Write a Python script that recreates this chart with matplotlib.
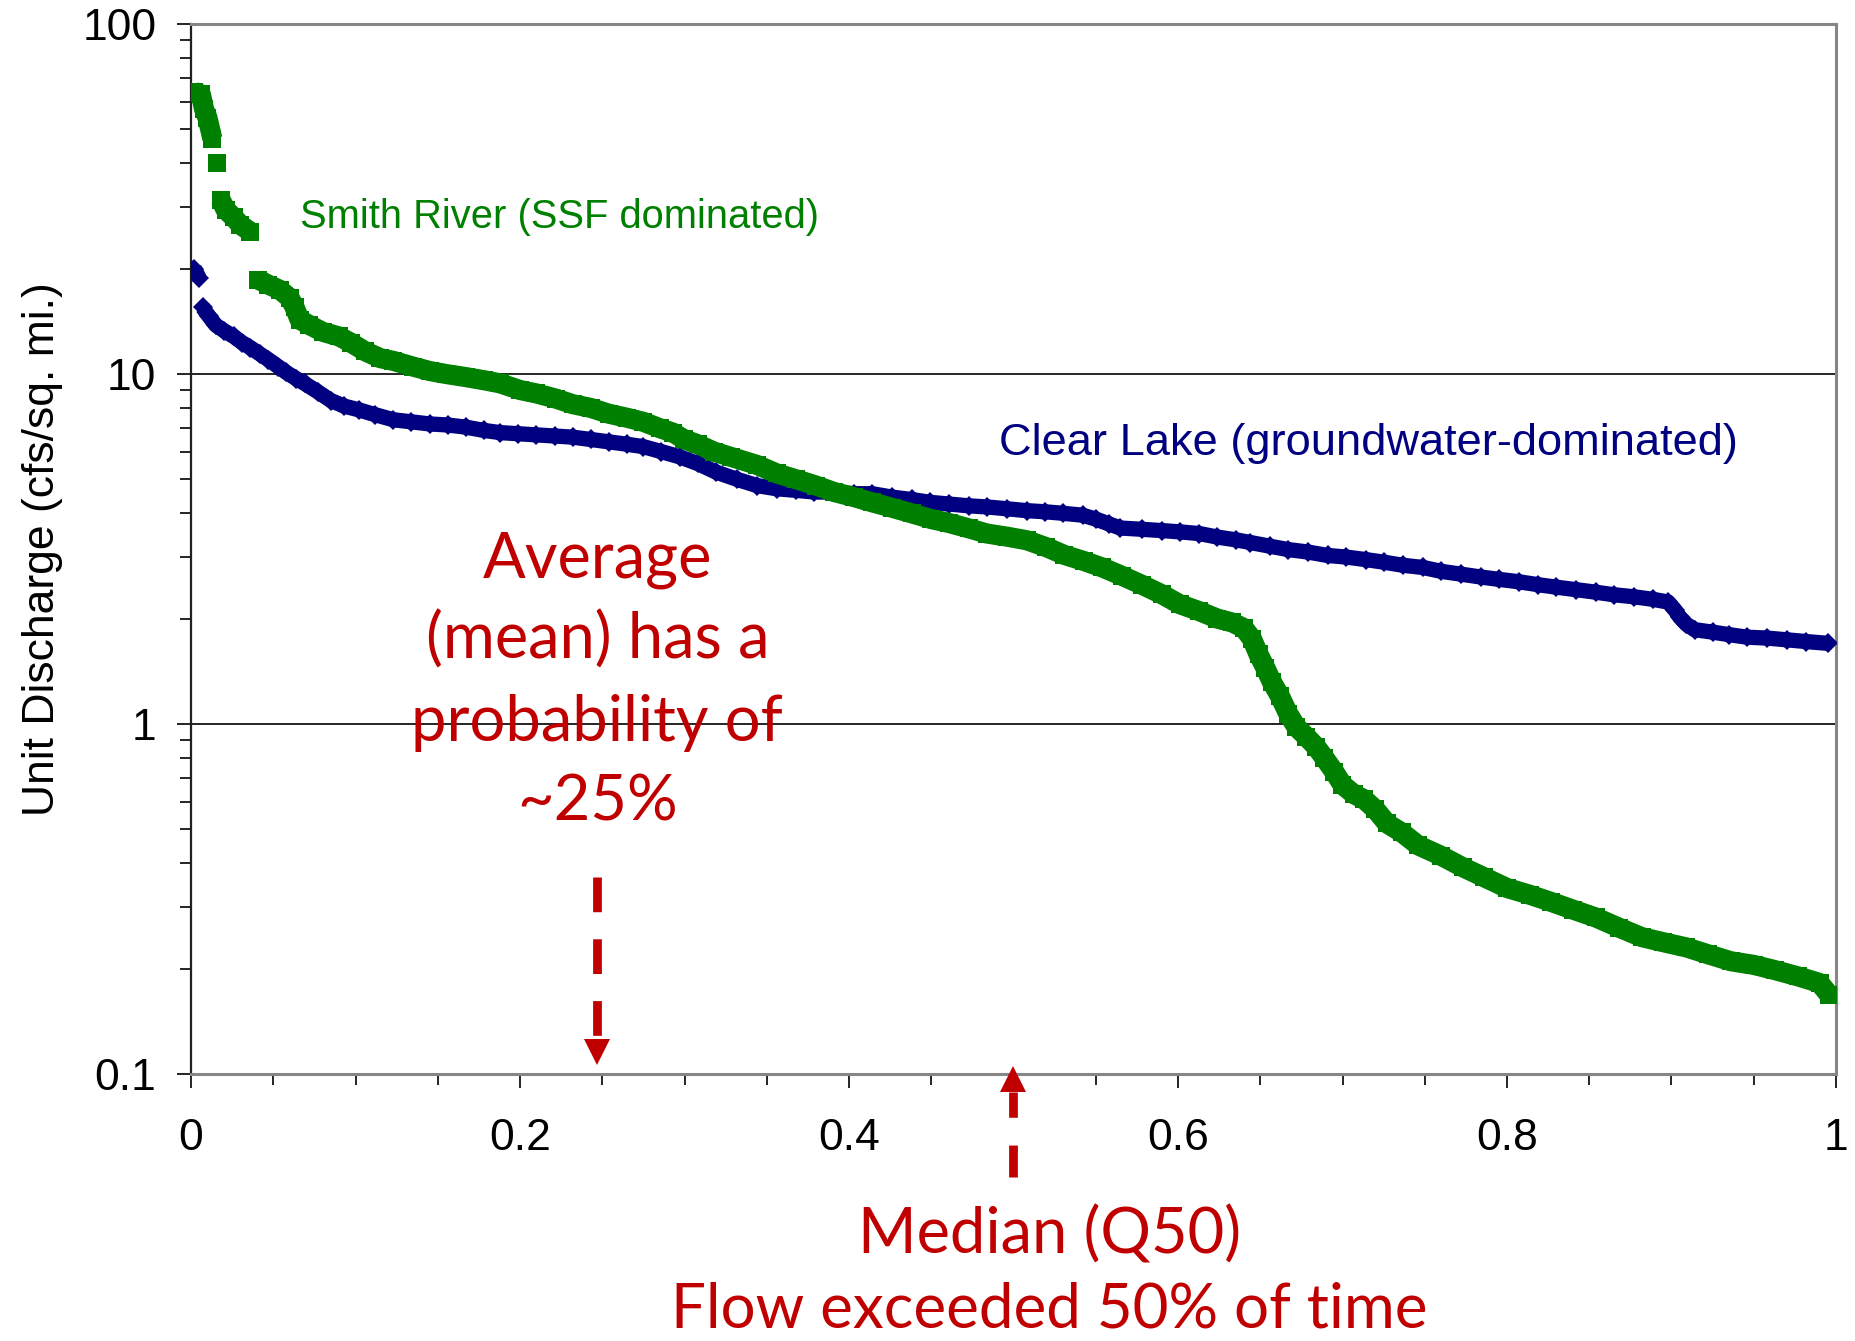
import numpy as np
import matplotlib
matplotlib.use("Agg")
import matplotlib.pyplot as plt
import matplotlib.transforms as mtransforms
from matplotlib.ticker import FixedLocator, NullFormatter, LogLocator

plt.rcParams['font.family'] = ['Liberation Sans', 'DejaVu Sans']
plt.rcParams['lines.scale_dashes'] = False

# ---------------- data ----------------
smith_x = [0.002, 0.006, 0.008, 0.010, 0.013, 0.016, 0.018, 0.021, 0.026, 0.030, 0.036,
           0.041, 0.047, 0.054, 0.060, 0.063, 0.066, 0.072, 0.080, 0.090, 0.097, 0.106,
           0.115, 0.123, 0.135, 0.145, 0.155, 0.167, 0.178, 0.188, 0.200, 0.210, 0.222,
           0.232, 0.243, 0.254, 0.265, 0.275, 0.285, 0.293, 0.300, 0.308, 0.318, 0.328,
           0.344, 0.356, 0.368, 0.380, 0.391, 0.403, 0.414, 0.426, 0.438, 0.450, 0.461,
           0.473, 0.484, 0.496, 0.508, 0.520, 0.531, 0.543, 0.554, 0.566, 0.578, 0.590,
           0.601, 0.613, 0.624, 0.633, 0.640, 0.645, 0.649, 0.653, 0.657, 0.662, 0.667,
           0.672, 0.678, 0.684, 0.689, 0.695, 0.700, 0.707, 0.713, 0.720, 0.727, 0.736,
           0.746, 0.760, 0.773, 0.786, 0.800, 0.814, 0.827, 0.840, 0.854, 0.868, 0.882,
           0.895, 0.909, 0.922, 0.936, 0.950, 0.963, 0.977, 0.990, 0.996]
smith_q = [64, 63, 57, 54, 47, 40, 31.5, 29.5, 28, 26.7, 25.5,
           18.6, 18.0, 17.4, 16.5, 15.5, 14.3, 13.8, 13.2, 12.8, 12.3, 11.6,
           11.1, 10.9, 10.5, 10.2, 10.0, 9.8, 9.6, 9.4, 9.0, 8.8, 8.5,
           8.2, 8.0, 7.7, 7.5, 7.3, 7.0, 6.8, 6.5, 6.3, 6.0, 5.8,
           5.5, 5.2, 5.0, 4.8, 4.6, 4.45, 4.3, 4.15, 4.0, 3.85, 3.75,
           3.62, 3.5, 3.43, 3.35, 3.2, 3.04, 2.92, 2.8, 2.65, 2.5, 2.35,
           2.2, 2.1, 2.0, 1.95, 1.88, 1.75, 1.58, 1.45, 1.32, 1.2, 1.07,
           0.98, 0.92, 0.86, 0.80, 0.73, 0.67, 0.63, 0.61, 0.57, 0.52, 0.49,
           0.45, 0.42, 0.39, 0.365, 0.34, 0.325, 0.31, 0.295, 0.28, 0.262, 0.246,
           0.238, 0.23, 0.22, 0.21, 0.205, 0.198, 0.19, 0.182, 0.168]

clear_x = [0.002, 0.005, 0.007, 0.011, 0.015, 0.020, 0.026, 0.031, 0.036, 0.042, 0.047,
           0.053, 0.058, 0.064, 0.069, 0.077, 0.085, 0.093, 0.102, 0.112, 0.123, 0.134,
           0.145, 0.156, 0.167, 0.178, 0.188, 0.199, 0.210, 0.221, 0.232, 0.243, 0.254,
           0.265, 0.275, 0.286, 0.297, 0.308, 0.319, 0.332, 0.344, 0.356, 0.368, 0.379,
           0.391, 0.403, 0.414, 0.426, 0.438, 0.449, 0.461, 0.473, 0.484, 0.496, 0.508,
           0.519, 0.530, 0.542, 0.550, 0.558, 0.565, 0.578, 0.590, 0.601, 0.613, 0.624,
           0.635, 0.644, 0.656, 0.667, 0.679, 0.691, 0.702, 0.714, 0.725, 0.737, 0.749,
           0.760, 0.772, 0.784, 0.795, 0.807, 0.819, 0.830, 0.842, 0.854, 0.865, 0.877,
           0.889, 0.898, 0.902, 0.905, 0.909, 0.914, 0.925, 0.935, 0.946, 0.958, 0.970,
           0.982, 0.995]
clear_q = [20.0, 18.8, 15.5, 14.6, 13.8, 13.3, 12.8, 12.3, 11.9, 11.4, 11.0,
           10.5, 10.1, 9.7, 9.4, 8.9, 8.4, 8.1, 7.9, 7.65, 7.4, 7.3,
           7.2, 7.15, 7.05, 6.9, 6.8, 6.75, 6.7, 6.65, 6.6, 6.5, 6.4,
           6.3, 6.2, 6.0, 5.8, 5.55, 5.25, 5.0, 4.8, 4.7, 4.65, 4.6,
           4.6, 4.55, 4.55, 4.45, 4.38, 4.3, 4.25, 4.2, 4.17, 4.12, 4.07,
           4.04, 4.0, 3.95, 3.85, 3.73, 3.63, 3.6, 3.57, 3.54, 3.5, 3.42,
           3.36, 3.3, 3.22, 3.15, 3.1, 3.03, 3.0, 2.95, 2.9, 2.84, 2.8,
           2.73, 2.68, 2.63, 2.59, 2.55, 2.5, 2.46, 2.42, 2.38, 2.34, 2.31,
           2.27, 2.23, 2.12, 2.02, 1.93, 1.86, 1.83, 1.80, 1.77, 1.76, 1.74,
           1.72, 1.70]

x_ticks = [0, 0.2, 0.4, 0.6, 0.8, 1.0]
x_tick_labels = ["0", "0.2", "0.4", "0.6", "0.8", "1"]
y_ticks = [0.1, 1, 10, 100]
y_tick_labels = ["0.1", "1", "10", "100"]

mean_prob = 0.247
median_prob = 0.5

GREEN = "#008000"
NAVY = "#000080"
RED = "#C00000"
GRAY = "#868686"

# ---------------- figure ----------------
W, H = 1856, 1341
fig = plt.figure(figsize=(W / 100, H / 100), dpi=100)
ax = fig.add_axes([191 / W, 1 - 1074 / H, (1836 - 191) / W, (1074 - 24) / H])
ax.set_xlim(0, 1)
ax.set_yscale("log")
ax.set_ylim(0.1, 100)


def split_runs(x, y, thr):
    x = np.asarray(x, float)
    y = np.asarray(y, float)
    br = np.where(np.abs(np.diff(np.log10(y))) > thr)[0] + 1
    return list(zip(np.split(x, br), np.split(y, br)))


# Clear Lake (navy diamonds)
for xs, ys in split_runs(clear_x, clear_q, 0.065):
    ax.plot(xs, ys, "-", color=NAVY, lw=11, solid_capstyle="butt", zorder=3)
ax.plot(clear_x, clear_q, "D", color=NAVY, ms=10, mew=0, zorder=3)

# Smith River (green squares)
for xs, ys in split_runs(smith_x, smith_q, 0.065):
    ax.plot(xs, ys, "-", color=GREEN, lw=14.5, solid_capstyle="butt", zorder=4)
ax.plot(smith_x, smith_q, "s", color=GREEN, ms=13.5, mew=0, zorder=4)

# grid lines at 1 and 10
for v in [1, 10]:
    ax.axhline(v, color="black", lw=1.2, zorder=1)

# spines
for s in ["top", "right", "bottom"]:
    ax.spines[s].set_color(GRAY)
    ax.spines[s].set_linewidth(2.2)
ax.spines["left"].set_color("#202020")
ax.spines["left"].set_linewidth(1.6)

# ticks
ax.set_xticks(x_ticks)
ax.set_xticklabels(x_tick_labels)
ax.xaxis.set_minor_locator(FixedLocator(np.arange(0, 1.0001, 0.05)))
ax.set_yticks(y_ticks)
ax.set_yticklabels(y_tick_labels)
ax.yaxis.set_minor_locator(LogLocator(base=10, subs=np.arange(2, 10)))
ax.yaxis.set_minor_formatter(NullFormatter())
ax.tick_params(axis="both", which="major", direction="out", length=10, width=1.2,
               color="black", labelsize=32)
ax.tick_params(axis="both", which="minor", direction="out", length=8, width=1.2,
               color="black")
ax.tick_params(axis="x", which="major", pad=22)
ax.tick_params(axis="y", which="major", pad=15)

ax.set_ylabel("Unit Discharge (cfs/sq. mi.)", fontsize=32, labelpad=14)

# series labels
ax.text(0.0663, 0.8057, "Smith River (SSF dominated)", transform=ax.transAxes,
        color=GREEN, fontsize=28.7, ha="left", va="baseline")
ax.text(0.4912, 0.5895, "Clear Lake (groundwater-dominated)", transform=ax.transAxes,
        color=NAVY, fontsize=32.6, ha="left", va="baseline")

# annotations
blend = mtransforms.blended_transform_factory(ax.transData, ax.transAxes)
red_font = ["Lato", "DejaVu Sans"]
ann_size = 45.5

mean_lines = ["Average", "(mean) has a", "probability of", "~25%"]
mean_base = [0.4733, 0.3952, 0.3171, 0.2410]
for t, yb in zip(mean_lines, mean_base):
    ax.text(mean_prob, yb, t, transform=blend, color=RED, fontsize=ann_size,
            family=red_font, ha="center", va="baseline", zorder=6)

med_lines = ["Median (Q50)", "Flow exceeded 50% of time"]
med_base = [-0.1705, -0.2412]
med_sizes = [45.5, 44.6]
for t, yb, fs in zip(med_lines, med_base, med_sizes):
    ax.text(0.522, yb, t, transform=blend, color=RED, fontsize=fs,
            family=red_font, ha="center", va="baseline", clip_on=False)

# down arrow (mean)
ln, = ax.plot([mean_prob, mean_prob], [0.1876, 0.0343], transform=blend,
              color=RED, lw=6.3, clip_on=False, solid_capstyle="butt",
              dash_capstyle="butt", zorder=6)
ln.set_dashes((25, 19.5))
ax.plot([mean_prob], [0.0205], marker="v", ms=18.5, mew=0, color=RED,
        transform=blend, clip_on=False, zorder=6)

# up arrow (median)
ln2, = ax.plot([median_prob, median_prob], [-0.0981, -0.0171], transform=blend,
               color=RED, lw=6.3, clip_on=False, dash_capstyle="butt", zorder=6)
ln2.set_dashes((23, 20))
ax.plot([median_prob], [-0.0052], marker="^", ms=18.5, mew=0, color=RED,
        transform=blend, clip_on=False, zorder=6)

fig.savefig("out.png", dpi=100)
